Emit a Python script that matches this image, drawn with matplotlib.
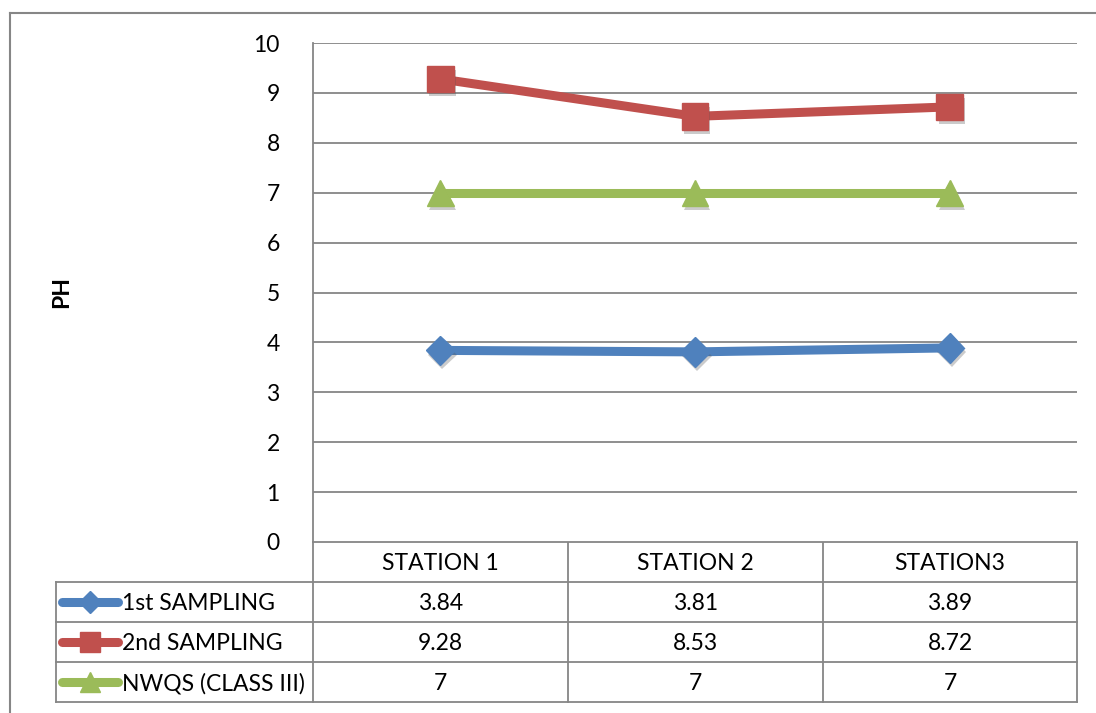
import matplotlib.pyplot as plt
import matplotlib.patheffects as pe

stations = ["STATION 1", "STATION 2", "STATION3"]
series_names = ["1st SAMPLING", "2nd SAMPLING", "NWQS (CLASS III)"]
first_sampling = [3.84, 3.81, 3.89]
second_sampling = [9.28, 8.53, 8.72]
nwqs_class3 = [7, 7, 7]
y_ticks = list(range(0, 11))

W, H = 1096, 713
GRID = "#868686"
FS = 16.5
plt.rcParams["font.family"] = ["Lato", "DejaVu Sans"]

series = [
    (first_sampling, "#4F81BD", "D", 15),
    (second_sampling, "#C0504D", "s", 19),
    (nwqs_class3, "#9BBB59", "^", 19),
]

fig = plt.figure(figsize=(W / 100, H / 100), dpi=100)

# plot area in pixel terms
left, right, top, bottom = 313, 1077, 43, 542
ax = fig.add_axes([left / W, 1 - bottom / H, (right - left) / W, (bottom - top) / H])
ax.set_xlim(-0.5, len(stations) - 0.5)
ax.set_ylim(0, 10)
ax.set_yticks(y_ticks)
ax.set_yticklabels([str(t) for t in y_ticks], fontsize=FS)
ax.set_xticks([])
ax.tick_params(axis="y", length=0, pad=24)
for t in y_ticks:
    ax.axhline(t, color=GRID, lw=1.3, zorder=1)
for side in ["top", "right", "bottom"]:
    ax.spines[side].set_visible(False)
ax.spines["left"].set_color(GRID)
ax.spines["left"].set_linewidth(1.3)

xs = list(range(len(stations)))
shadow = [pe.SimplePatchShadow(offset=(1.5, -3), alpha=0.3, shadow_rgbFace="#555555"), pe.Normal()]
for vals, color, marker, ms in series:
    ax.plot(xs, vals, color=color, lw=6.5, solid_capstyle="round", zorder=3)
    ax.plot(xs, vals, ls="none", marker=marker, ms=ms, color=color,
            markeredgecolor=color, zorder=4, path_effects=shadow)

# overlay in pixel coordinates for the frame and data table
ov = fig.add_axes([0, 0, 1, 1], zorder=-1)
ov.set_xlim(0, W)
ov.set_ylim(H, 0)
ov.axis("off")

ov.plot([10, W + 5], [13, 13], color=GRID, lw=1.5)
ov.plot([10, 10], [13, H + 5], color=GRID, lw=1.5)

cols = [313, 568, 823, 1077]
rows = [542, 582, 622, 662, 702]
tkw = dict(color=GRID, lw=1.3)
for c in cols:
    ov.plot([c, c], [rows[0], rows[-1]], **tkw)
ov.plot([56, 56], [rows[1], rows[-1]], **tkw)
for i, r in enumerate(rows):
    x0 = cols[0] if i == 0 else 56
    ov.plot([x0, cols[-1]], [r, r], **tkw)

dy = 2  # text sits a touch below the cell middle
for j, name in enumerate(stations):
    ov.text((cols[j] + cols[j + 1]) / 2, (rows[0] + rows[1]) / 2 + dy, name,
            ha="center", va="center", fontsize=FS)

for i, (vals, color, marker, ms) in enumerate(series):
    yc = (rows[i + 1] + rows[i + 2]) / 2
    ov.plot([62, 118], [yc, yc], color=color, lw=6.5, solid_capstyle="round")
    ov.plot([90], [yc], marker=marker, ms=ms * 0.75, color=color, markeredgecolor=color)
    ov.text(122, yc + dy, series_names[i], ha="left", va="center", fontsize=FS)
    for j, v in enumerate(vals):
        ov.text((cols[j] + cols[j + 1]) / 2, yc + dy, f"{v:g}",
                ha="center", va="center", fontsize=FS)

fig.text(62 / W, 1 - 292 / H, "PH", rotation=90, ha="center", va="center",
         fontsize=FS, fontweight="bold")

fig.savefig("out.png", dpi=100)
